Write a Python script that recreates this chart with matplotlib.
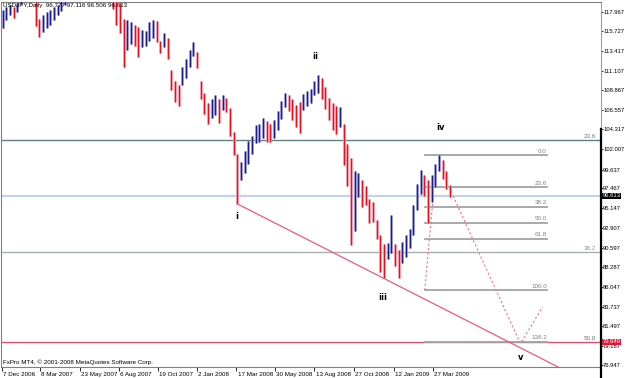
import matplotlib
matplotlib.use("Agg")
import matplotlib.pyplot as plt
import matplotlib.dates as mdates
import matplotlib.transforms as mtransforms
from matplotlib import font_manager
import pandas as pd

# ---------------------------------------------------------------------------
# Data read off the MT4 screenshot (USDJPY daily, sampled weekly)
# ---------------------------------------------------------------------------
week_start = "2006-12-20"
week_high = [
    116.5, 118.2, 118.5, 118.8, 118.5, 119.0, 120.2, 121.5, 121.8, 121.2,
    120.5, 117.2, 117.6, 118.0, 118.2, 118.5, 118.8, 119.3, 119.9, 120.6,
    121.0, 121.6, 121.9, 122.3, 122.7, 123.6, 124.1, 123.8, 123.1, 123.0,
    122.3, 121.0, 119.4, 119.0, 117.2, 117.0, 116.8, 116.4, 116.2, 115.9,
    115.8, 116.8, 117.0, 116.9, 114.6, 115.5, 115.0, 111.2, 110.0, 109.5,
    111.6, 112.5, 113.5, 114.5, 113.3, 110.0, 108.5, 107.4, 107.9, 108.3,
    107.8, 108.3, 108.0, 106.8, 104.0, 101.5, 100.5, 101.8, 103.0, 103.5,
    104.8, 105.0, 105.6, 105.3, 105.0, 105.4, 106.5, 107.6, 108.5, 108.3,
    107.8, 107.2, 107.5, 108.4, 108.8, 109.0, 110.0, 110.6, 110.3, 109.3,
    108.0, 107.4, 107.0, 106.9, 105.0, 102.6, 101.0, 99.5, 99.3, 98.5,
    97.8, 96.2, 95.9, 93.8, 92.1, 91.0, 91.1, 94.4, 91.0, 90.3,
    91.2, 92.0, 92.8, 95.5, 98.0, 99.6, 99.0, 98.5, 99.0, 100.3,
    101.4, 100.8, 99.5, 97.9,
]
week_low = [
    114.7, 116.1, 117.0, 117.6, 117.3, 118.0, 118.9, 120.0, 120.3, 119.6,
    116.3, 115.1, 115.6, 116.1, 116.4, 117.0, 117.6, 118.1, 118.8, 119.2,
    119.6, 120.0, 120.5, 121.0, 121.5, 122.0, 123.0, 122.4, 121.6, 121.0,
    120.2, 118.3, 116.5, 115.5, 111.6, 113.5, 114.2, 114.0, 112.7, 113.9,
    114.0, 114.6, 115.0, 114.5, 113.2, 113.9, 112.5, 108.9, 107.5, 107.1,
    109.5, 110.3, 111.6, 112.8, 111.4, 107.9, 106.1, 105.0, 105.6, 106.0,
    105.1, 106.6, 106.3, 103.5, 101.4, 95.7, 98.5, 99.3, 100.3, 101.5,
    102.8, 102.9, 103.3, 102.9, 102.9, 103.3, 104.3, 105.5, 106.9, 106.5,
    105.4, 104.6, 103.9, 106.6, 107.0, 107.4, 108.3, 108.6, 107.8, 106.7,
    105.4, 104.2, 103.8, 104.6, 100.2, 97.8, 90.9, 92.5, 96.5, 95.3,
    95.5, 93.5, 93.6, 91.6, 87.8, 87.1, 89.3, 90.0, 88.5, 87.1,
    88.8, 89.5, 90.5, 92.0, 95.0, 96.8, 96.6, 93.5, 95.9, 97.6,
    99.5, 98.6, 97.4, 96.5,
]

price_ticks = [117.967, 115.727, 113.417, 111.107, 108.867, 106.557, 104.317,
               102.007, 99.637, 97.467, 95.147, 92.907, 90.597, 88.287,
               86.047, 83.737, 81.497, 79.187, 76.947]
date_ticks = ["2007-03-08", "2007-05-23", "2007-08-06", "2007-10-19",
              "2008-01-02", "2008-03-17", "2008-05-30", "2008-08-13",
              "2008-10-27", "2009-01-12", "2009-03-27"]
first_label = "7 Dec 2006"
date_labels = ["8 Mar 2007", "23 May 2007", "6 Aug 2007", "19 Oct 2007",
               "2 Jan 2008", "17 Mar 2008", "30 May 2008", "13 Aug 2008",
               "27 Oct 2008", "12 Jan 2009", "27 Mar 2009"]

bid_price = 96.613
target_price = 79.649
big_fib_prices = [103.1, 90.1, target_price]
big_fib_labels = ["23.6", "38.2", "50.0"]

fib_high = 101.35
fib_low = 85.65
fib_levels = [0.0, 23.6, 38.2, 50.0, 61.8, 100.0, 138.2]
fib_dates = ["2009-03-12", "2009-10-31"]

trend_dates = ["2008-03-18", "2010-01-01"]
trend_prices = [95.7, 75.47]

proj_a_dates = ["2009-03-12", "2009-03-27"]
proj_a_prices = [85.65, 95.8]
proj_b_dates = ["2009-05-05", "2009-09-09"]
proj_b_prices = [96.6, 79.65]
proj_c_dates = ["2009-09-13", "2009-10-23"]
proj_c_prices = [79.65, 83.7]

wave_names = ["i", "ii", "iii", "iv", "v"]
wave_dates = ["2008-03-18", "2008-08-15", "2008-12-21", "2009-04-11", "2009-09-11"]
wave_prices = [94.15, 112.74, 84.85, 104.49, 77.88]

# ---------------------------------------------------------------------------
# Pick a narrow font if one is installed (MT4 uses a very compact face)
# ---------------------------------------------------------------------------
installed = {f.name for f in font_manager.fontManager.ttflist}
small_font = "Liberation Sans"
small_size = 4.5
for name, size in [("Liberation Sans Narrow", 5.0), ("DejaVu Sans Condensed", 4.5)]:
    if name in installed:
        small_font, small_size = name, size
        break
axis_size = small_size - 0.3
plt.rcParams["font.family"] = [small_font, "DejaVu Sans"]

fig = plt.figure(figsize=(6.25, 3.78), dpi=100)
ax = fig.add_axes([1.5 / 625, 11 / 378, 599 / 625, 365.3 / 378])

d = lambda s: mdates.date2num(pd.Timestamp(s))
x_left = d("2006-12-24 12:00")
x_right = d("2010-02-10 14:00")
ax.set_xlim(x_left, x_right)
ax.set_ylim(76.72, 119.16)

# bars
weeks = mdates.date2num(pd.date_range(week_start, periods=len(week_high), freq="7D"))
mids = [(h + l) / 2 for h, l in zip(week_high, week_low)]
dark, light = [], []
for i, m in enumerate(mids):
    up = i == 0 or m >= mids[i - 1]
    dark.append("#1c1c8a" if up else "#e8101c")
    light.append("#a4a4dc" if up else "#f6a8b6")
ax.vlines(weeks, week_low, week_high, colors=light, linewidth=2.0, zorder=3)
ax.vlines(weeks, week_low, week_high, colors=dark, linewidth=0.9, zorder=4)

# horizontal levels across the chart
ax.axhline(big_fib_prices[0], color="#5f8080", linewidth=1.0, zorder=2)
ax.axhline(big_fib_prices[1], color="#a8b0b0", linewidth=1.0, zorder=2)
ax.axhline(big_fib_prices[2], color="#e05070", linewidth=1.0, zorder=2)
ax.axhline(bid_price, color="#c0d4e6", linewidth=1.6, zorder=2)
label_colors = ["#5f8080", "#8a9494", "#707070"]
for p, lab, c in zip(big_fib_prices, big_fib_labels, label_colors):
    ax.text(0.993, p + 0.12, lab, transform=ax.get_yaxis_transform(),
            ha="right", va="bottom", fontsize=small_size, color=c)

# small fib retracement
f0, f1 = d(fib_dates[0]), d(fib_dates[1])
for lev in fib_levels:
    p = fib_high - lev / 100 * (fib_high - fib_low)
    ax.plot([f0, f1], [p, p], color="#a0a4a4", linewidth=1.3, zorder=2)
    ax.text(f1, p + 0.15, f"{lev:.1f}", ha="right", va="bottom",
            fontsize=small_size, color="#808080", zorder=5)

# trend line and projections
ax.plot([d(s) for s in trend_dates], trend_prices, color="#ea5a80",
        linewidth=0.9, zorder=5)
for dd, pp in [(proj_a_dates, proj_a_prices), (proj_b_dates, proj_b_prices),
               (proj_c_dates, proj_c_prices)]:
    ax.plot([d(s) for s in dd], pp, color="#f07090", linewidth=0.8,
            linestyle=(0, (2, 2)), zorder=5)

# wave labels
for name, ds, p in zip(wave_names, wave_dates, wave_prices):
    ax.text(d(ds), p, name, ha="center", va="center", fontsize=6,
            fontweight="bold", family="DejaVu Sans", color="black", zorder=6)

# texts
ax.text(0.003, 0.996, "USDJPY,Daily  96.777 97.116 96.506 96.613",
        transform=ax.transAxes, ha="left", va="top", fontsize=small_size, zorder=7)
ax.text(0.003, 0.006, "FxPro MT4, \u00a9 2001-2008 MetaQuotes Software Corp.",
        transform=ax.transAxes, ha="left", va="bottom", fontsize=small_size, zorder=7)

# axes
ax.yaxis.tick_right()
ax.set_yticks(price_ticks)
ax.set_yticklabels([f"{v:.3f}" for v in price_ticks])
ax.tick_params(axis="y", length=1.5, width=0.6, pad=0.4, labelsize=axis_size,
               colors="black")
ax.set_xticks([x_left] + [d(s) for s in date_ticks])
ax.set_xticklabels([first_label] + date_labels)
ax.tick_params(axis="x", length=3, width=0.6, pad=0.3, labelsize=small_size)
offset = mtransforms.ScaledTranslation(1.2 / 100, 0, fig.dpi_scale_trans)
for t in ax.get_xticklabels():
    t.set_horizontalalignment("left")
    t.set_transform(t.get_transform() + offset)

for s in ["left", "top", "bottom"]:
    ax.spines[s].set_color("#808080")
    ax.spines[s].set_linewidth(0.8)
ax.spines["right"].set_color("#a0a0a0")
ax.spines["right"].set_linewidth(0.8)
ax.plot([1.0, 1.0], [75.4, 104.317], transform=ax.get_yaxis_transform(),
        color="black", linewidth=1.6, clip_on=False, zorder=8)

# price boxes
ytr = ax.get_yaxis_transform()
ax.text(1.003, bid_price, f"{bid_price:.3f}", transform=ytr, ha="left",
        va="center", fontsize=axis_size, color="white", zorder=9,
        bbox=dict(facecolor="black", edgecolor="none", pad=0.5))
ax.text(1.003, target_price, f"{target_price:.3f}", transform=ytr, ha="left",
        va="center", fontsize=axis_size, color="white", zorder=9,
        bbox=dict(facecolor="#e0183c", edgecolor="none", pad=0.5))

fig.savefig("out.png", dpi=100)
